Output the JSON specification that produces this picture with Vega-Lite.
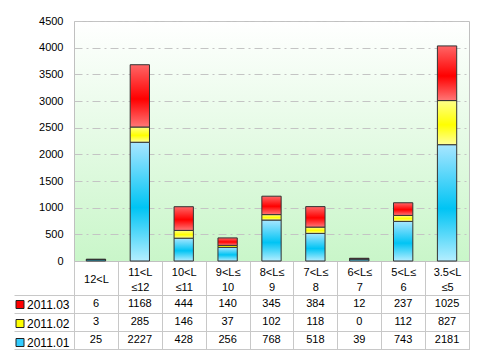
{
  "$schema": "https://vega.github.io/schema/vega-lite/v6.json",
  "background": "white",
  "padding": {"left": 13, "top": 14, "right": 4, "bottom": 4},
  "datasets": {
    "d": [
      {"cat": "12<L", "series": "2011.03", "value": 6},
      {"cat": "12<L", "series": "2011.02", "value": 3},
      {"cat": "12<L", "series": "2011.01", "value": 25},
      {"cat": "11<L|≤12", "series": "2011.03", "value": 1168},
      {"cat": "11<L|≤12", "series": "2011.02", "value": 285},
      {"cat": "11<L|≤12", "series": "2011.01", "value": 2227},
      {"cat": "10<L|≤11", "series": "2011.03", "value": 444},
      {"cat": "10<L|≤11", "series": "2011.02", "value": 146},
      {"cat": "10<L|≤11", "series": "2011.01", "value": 428},
      {"cat": "9<L≤|10", "series": "2011.03", "value": 140},
      {"cat": "9<L≤|10", "series": "2011.02", "value": 37},
      {"cat": "9<L≤|10", "series": "2011.01", "value": 256},
      {"cat": "8<L≤|9", "series": "2011.03", "value": 345},
      {"cat": "8<L≤|9", "series": "2011.02", "value": 102},
      {"cat": "8<L≤|9", "series": "2011.01", "value": 768},
      {"cat": "7<L≤|8", "series": "2011.03", "value": 384},
      {"cat": "7<L≤|8", "series": "2011.02", "value": 118},
      {"cat": "7<L≤|8", "series": "2011.01", "value": 518},
      {"cat": "6<L≤|7", "series": "2011.03", "value": 12},
      {"cat": "6<L≤|7", "series": "2011.02", "value": 0},
      {"cat": "6<L≤|7", "series": "2011.01", "value": 39},
      {"cat": "5<L≤|6", "series": "2011.03", "value": 237},
      {"cat": "5<L≤|6", "series": "2011.02", "value": 112},
      {"cat": "5<L≤|6", "series": "2011.01", "value": 743},
      {"cat": "3.5<L|≤5", "series": "2011.03", "value": 1025},
      {"cat": "3.5<L|≤5", "series": "2011.02", "value": 827},
      {"cat": "3.5<L|≤5", "series": "2011.01", "value": 2181}
    ]
  },
  "data": {"name": "d"},
  "bounds": "flush",
  "spacing": 34,
  "resolve": {"scale": {"color": "independent"}, "legend": {"color": "independent"}},
  "vconcat": [
    {
      "width": 395,
      "height": 240,
      "view": {
        "stroke": "#c0c0c0",
        "fill": {"gradient": "linear", "x1": 0, "y1": 0, "x2": 0, "y2": 1,
          "stops": [{"offset": 0, "color": "#ffffff"}, {"offset": 1, "color": "#c9f6c9"}]}
      },
      "transform": [
        {"stack": "value", "groupby": ["cat"], "sort": [{"field": "series", "order": "ascending"}], "as": ["v0", "v1"]}
      ],
      "encoding": {
        "x": {
          "field": "cat", "type": "nominal",
          "scale": {"domain": ["12<L", "11<L|≤12", "10<L|≤11", "9<L≤|10", "8<L≤|9", "7<L≤|8", "6<L≤|7", "5<L≤|6", "3.5<L|≤5"], "paddingInner": 0, "paddingOuter": 0},
          "axis": {
            "title": null, "tickBand": "extent", "tickSize": 34, "tickColor": "#c8c8c8",
            "domainColor": "#c0c0c0",
            "labelExpr": "indexof(datum.label, '|') < 0 ? ['\u200b', datum.label] : [split(datum.label, '|')[0], '\u200b', split(datum.label, '|')[1]]",
            "labelBaseline": "middle", "labelPadding": -23, "labelAngle": 0,
            "labelFontSize": 11, "labelColor": "#000000", "labelLineHeight": 7.5,
            "labelOverlap": false, "labelBound": false
          }
        },
        "y": {
          "field": "v1", "type": "quantitative",
          "scale": {"domain": [0, 4500], "nice": false},
          "axis": {
            "title": null, "values": [0, 500, 1000, 1500, 2000, 2500, 3000, 3500, 4000, 4500],
            "format": "d",
            "grid": true, "gridDash": [8, 4, 2, 4], "gridColor": "#c4c4c4",
            "ticks": false, "domain": false, "labelPadding": 11,
            "labelFontSize": 11, "labelColor": "#000000"
          }
        },
        "y2": {"field": "v0"}
      },
      "layer": [
        {
          "transform": [{"filter": "datum.series == '2011.01'"}],
          "mark": {"type": "bar", "width": {"band": 0.44}, "stroke": "#333333", "strokeWidth": 1,
            "fill": {"gradient": "linear", "x1": 0, "y1": 0, "x2": 0, "y2": 1,
              "stops": [{"offset": 0, "color": "#a8e6ff"}, {"offset": 0.55, "color": "#00c4f4"}, {"offset": 1, "color": "#b4eeff"}]}}
        },
        {
          "transform": [{"filter": "datum.series == '2011.02'"}],
          "mark": {"type": "bar", "width": {"band": 0.44}, "stroke": "#333333", "strokeWidth": 1,
            "fill": {"gradient": "linear", "x1": 0, "y1": 0, "x2": 0, "y2": 1,
              "stops": [{"offset": 0, "color": "#ffff88"}, {"offset": 0.55, "color": "#ffff00"}, {"offset": 1, "color": "#ffff99"}]}}
        },
        {
          "transform": [{"filter": "datum.series == '2011.03'"}],
          "mark": {"type": "bar", "width": {"band": 0.44}, "stroke": "#333333", "strokeWidth": 1,
            "fill": {"gradient": "linear", "x1": 0, "y1": 0, "x2": 0, "y2": 1,
              "stops": [{"offset": 0, "color": "#ff6666"}, {"offset": 0.55, "color": "#ff0000"}, {"offset": 1, "color": "#ff7777"}]}}
        }
      ]
    },
    {
      "width": 395,
      "height": 54,
      "view": {"stroke": "#c0c0c0", "fill": "white"},
      "layer": [
        {
          "mark": {"type": "text", "fontSize": 11, "color": "#000000"},
          "encoding": {
            "x": {
              "field": "cat", "type": "nominal",
              "scale": {"domain": ["12<L", "11<L|≤12", "10<L|≤11", "9<L≤|10", "8<L≤|9", "7<L≤|8", "6<L≤|7", "5<L≤|6", "3.5<L|≤5"], "paddingInner": 0, "paddingOuter": 0},
              "axis": {"title": null, "labels": false, "ticks": false, "domain": false, "grid": true, "tickBand": "extent", "gridColor": "#c8c8c8"}
            },
            "y": {
              "field": "series", "type": "nominal",
              "scale": {"domain": ["2011.03", "2011.02", "2011.01"], "paddingInner": 0, "paddingOuter": 0},
              "axis": {"title": null, "labels": false, "grid": true, "tickBand": "extent", "gridColor": "#c8c8c8",
                "ticks": true, "tickSize": 60, "tickColor": "#c8c8c8", "domainColor": "#c8c8c8"}
            },
            "text": {"field": "value", "type": "quantitative", "format": "d"}
          }
        },
        {
          "mark": {"type": "square", "opacity": 0, "size": 64},
          "encoding": {
            "y": {"field": "series", "type": "nominal"},
            "color": {
              "field": "series", "type": "nominal",
              "scale": {"domain": ["2011.03", "2011.02", "2011.01"], "range": ["#ff0000", "#ffff00", "#33ccff"]},
              "legend": {
                "title": null, "orient": "none", "legendX": -60, "legendY": 3.5,
                "symbolType": "square", "symbolSize": 64, "symbolOpacity": 1,
                "symbolStrokeColor": "#222222", "symbolStrokeWidth": 1,
                "labelFontSize": 12, "labelColor": "#000000", "labelOffset": 1,
                "rowPadding": 7, "padding": 0
              }
            }
          }
        }
      ]
    }
  ],
  "config": {
    "font": "Liberation Sans"
  }
}
